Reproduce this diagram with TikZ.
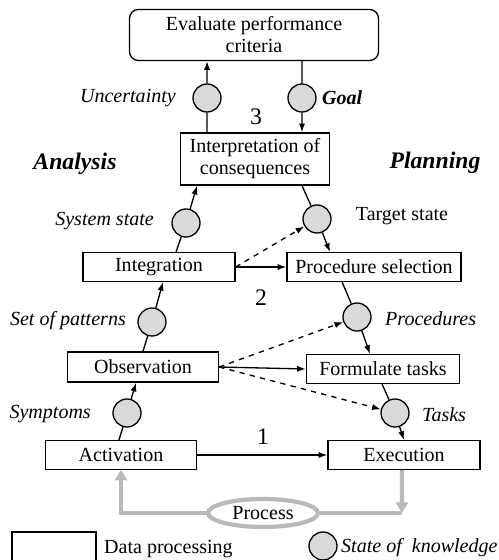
\documentclass[tikz,border=0pt]{standalone}
\usepackage{fontspec}
\setmainfont{Liberation Serif}
\usetikzlibrary{shapes.geometric, arrows.meta, positioning}

\definecolor{knowgray}{RGB}{217, 217, 217}
\definecolor{procgray}{RGB}{185, 185, 185}

\tikzset{
  txt/.style={font=\fontsize{11.4}{12.5}\selectfont},
  box/.style={txt, draw, line width=0.75pt, inner sep=1pt, minimum height=0.57cm, align=center},
  know/.style={circle, draw, line width=0.75pt, fill=knowgray, minimum size=0.56cm, inner sep=0pt},
  lbl/.style={font=\fontsize{11.4}{12.5}\selectfont\itshape},
  side/.style={font=\fontsize{13.5}{15}\selectfont\bfseries\itshape},
  num/.style={font=\fontsize{13.5}{15}\selectfont},
  flow/.style={line width=0.75pt, -{Latex[length=5pt, width=3.5pt]}},
  link/.style={line width=0.75pt},
  hint/.style={line width=0.75pt, dashed, -{Latex[length=5pt, width=3.5pt]}},
  procline/.style={line width=2.4pt, procgray},
  procflow/.style={line width=2.4pt, procgray, -{Triangle[length=6pt, width=7pt]}}
}

\begin{document}
\begin{tikzpicture}[x=0.02cm, y=-0.02cm]
  \useasboundingbox (0,0) rectangle (498,560);

  % Top level
  \node[box, rounded corners=5pt, minimum width=4.98cm, minimum height=1.02cm] (eval) at (254,35) {Evaluate performance\\criteria};
  \node[box, minimum width=2.98cm, minimum height=1.04cm] (interp) at (255,159) {Interpretation of\\consequences};
  \node[know] (unc) at (207,98) {};
  \node[know] (goal) at (302,98) {};
  \node[lbl, anchor=east] (unclbl) at (182,98) {Uncertainty};
  \node[lbl, font=\fontsize{11.4}{12.5}\selectfont\bfseries\itshape, anchor=west] (goallbl) at (316,98) {Goal};
  \node[num] (three) at (256,117) {3};

  \node[side] (analysis) at (75,164) {Analysis};
  \node[side] (planning) at (435,163) {Planning};

  % Middle level
  \node[box, minimum width=3.04cm] (integ) at (159,267) {Integration};
  \node[box, minimum width=3.48cm] (proc) at (374,267) {Procedure selection};
  \node[know] (sys) at (186,223) {};
  \node[know] (tgt) at (317,219) {};
  \node[lbl, anchor=east] (syslbl) at (160,221) {System state};
  \node[txt] (tgtlbl) at (402,216) {Target state};
  \node[num] (two) at (261,298) {2};

  % Lower level
  \node[box, minimum width=3.02cm, minimum height=0.6cm] (obs) at (143,367) {Observation};
  \node[box, minimum width=3.06cm] (form) at (383,369) {Formulate tasks};
  \node[know] (pat) at (152,322) {};
  \node[know] (procs) at (357,317) {};
  \node[lbl, anchor=east] (patlbl) at (132,321) {Set of patterns};
  \node[lbl, anchor=west] (procslbl) at (379,319) {Procedures};

  % Bottom level
  \node[box, minimum width=3.02cm] (act) at (121,455) {Activation};
  \node[box, minimum width=3.04cm] (exe) at (404,455) {Execution};
  \node[know] (sym) at (127,413) {};
  \node[know] (tasks) at (395,413) {};
  \node[lbl, anchor=east] (symlbl) at (97,414) {Symptoms};
  \node[lbl, anchor=west] (taskslbl) at (416,415) {Tasks};
  \node[num] (one) at (263,437) {1};

  % Process loop
  \node[txt, ellipse, draw=procgray, line width=2.4pt, fill=white, minimum width=2.2cm, minimum height=0.56cm, inner sep=0pt] (process) at (263,513) {Process};
  \coordinate (exedown) at (402,513);

  % Analysis side (upwards)
  \draw[link] ([xshift=-0.04cm]act.north) -- (sym);
  \draw[flow] (sym) -- ([xshift=-0.14cm]obs.south);
  \draw[link] (obs.north) -- (pat);
  \draw[flow] (pat) -- ([xshift=0.08cm]integ.south);
  \draw[link] ([xshift=0.34cm]integ.north) -- (sys);
  \draw[flow] (sys) -- ([xshift=-1.16cm]interp.south);
  \draw[link] ([xshift=-0.96cm]interp.north) -- (unc);
  \draw[flow] (unc) -- ([xshift=-0.94cm]eval.south);

  % Planning side (downwards)
  \draw[link] ([xshift=0.96cm]eval.south) -- (goal);
  \draw[flow] (goal) -- ([xshift=0.94cm]interp.north);
  \draw[link] ([xshift=0.94cm]interp.south) -- (tgt);
  \draw[flow] (tgt) -- ([xshift=-0.88cm]proc.north);
  \draw[link] ([xshift=-0.64cm]proc.south) -- (procs);
  \draw[flow] (procs) -- ([xshift=-0.26cm]form.north);
  \draw[link] ([xshift=-0.02cm]form.south) -- (tasks);
  \draw[flow] (tasks) -- (exe.north);

  % Shortcuts
  \draw[flow] (integ.east) -- (proc.west);
  \draw[flow] (obs.east) -- (form.west);
  \draw[flow] (act.east) -- (exe.west);
  \draw[hint] (integ.east) -- (tgt);
  \draw[hint] (obs.east) -- (procs);
  \draw[hint] (obs.east) -- (tasks);

  % Process
  \draw[procline] (process.east) -- (exedown);
  \draw[procflow] ([xshift=-0.04cm]exe.south) -- (exedown);
  \draw[procflow] (process.west) -| (act.south);

  % Legend
  \node[draw, line width=0.75pt, minimum width=1.68cm, minimum height=0.72cm] (legbox) at (54,550) {};
  \node[txt, anchor=west] (legboxlbl) at (98,549) {Data processing};
  \node[know] (legcirc) at (323,546) {};
  \node[lbl, anchor=west] (legcirclbl) at (335,548) {State of\ \ knowledge};
\end{tikzpicture}
\end{document}
